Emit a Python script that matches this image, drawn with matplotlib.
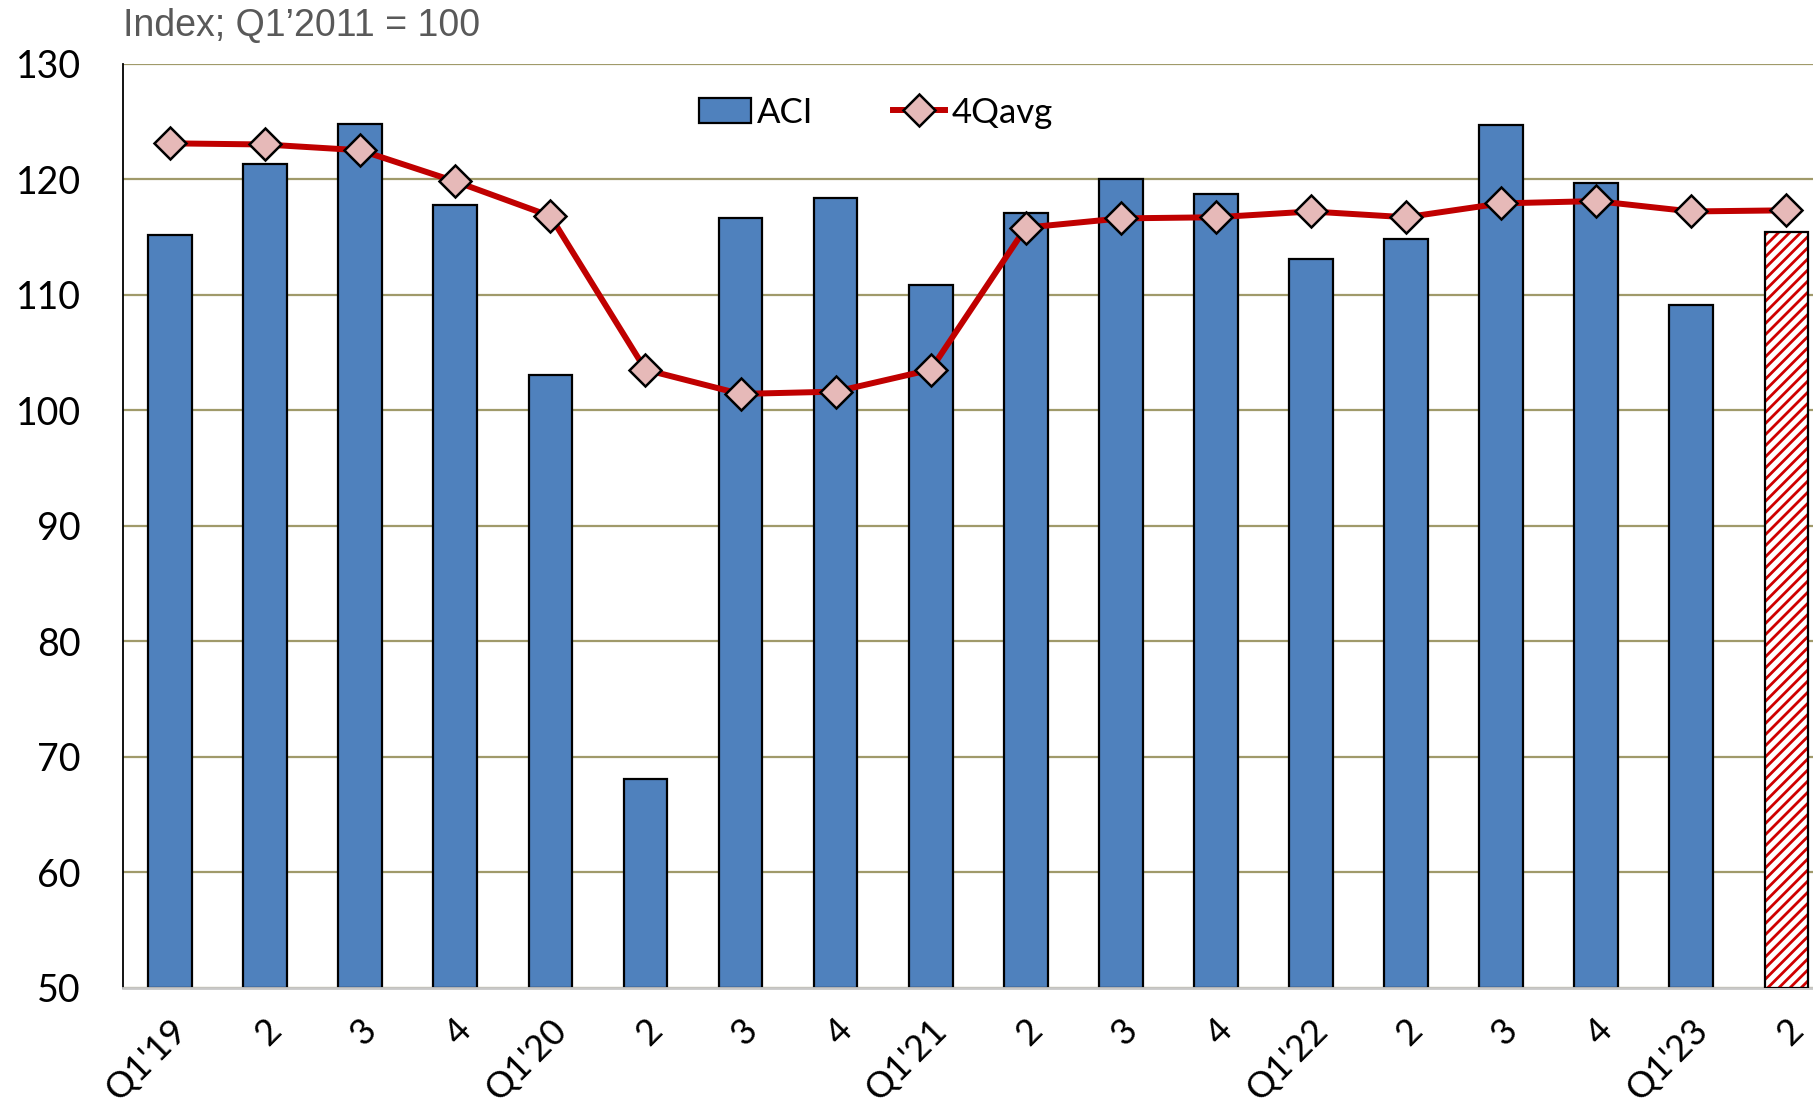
import matplotlib
matplotlib.use("Agg")
import matplotlib.pyplot as plt
import matplotlib.transforms as mtransforms

# data
quarters = ["Q1'19", "2", "3", "4", "Q1'20", "2", "3", "4", "Q1'21", "2", "3", "4",
            "Q1'22", "2", "3", "4", "Q1'23", "2"]
aci = [115.2, 121.3, 124.8, 117.8, 103.0, 68.1, 116.6, 118.4, 110.8, 117.1, 120.0, 118.7,
       113.1, 114.8, 124.7, 119.7, 109.1, 115.4]
avg4q = [123.1, 123.0, 122.5, 119.8, 116.8, 103.5, 101.4, 101.6, 103.5, 115.8, 116.6, 116.7,
         117.2, 116.7, 117.9, 118.1, 117.2, 117.3]
yticks = [50, 60, 70, 80, 90, 100, 110, 120, 130]

plt.rcParams['font.family'] = ['Lato', 'DejaVu Sans']
plt.rcParams['hatch.linewidth'] = 2.0

fig = plt.figure(figsize=(18.13, 11.05), dpi=100)
ax = fig.add_axes([0.0676, 0.1063, 0.9324, 0.8361])

x = list(range(len(quarters)))
base = 50
heights = [v - base for v in aci]
bars = ax.bar(x[:-1], heights[:-1], bottom=base, width=0.46, color='#4F81BD',
              edgecolor='black', linewidth=1.6, label='ACI', zorder=2)
# last quarter is a hatched (preliminary) bar
ax.bar(x[-1], heights[-1], bottom=base, width=0.46, color='white', hatch='///',
       edgecolor='#D00000', linewidth=0, zorder=2)
ax.bar(x[-1], heights[-1], bottom=base, width=0.46, fill=False,
       edgecolor='black', linewidth=1.6, zorder=3)

line, = ax.plot(x, avg4q, color='#C00000', linewidth=4.3, marker='D', markersize=16,
                markerfacecolor='#E6B9B8', markeredgecolor='black', markeredgewidth=1.8,
                label='4Qavg', zorder=4)

ax.set_ylim(50, 130)
ax.set_xlim(-0.5, 17.28)
ax.set_yticks(yticks)
ax.yaxis.grid(True, color='#A09A6A', linewidth=1.6, zorder=0)
ax.set_axisbelow(True)
ax.tick_params(axis='y', length=0, labelsize=27, pad=30)
ax.tick_params(axis='x', length=0, labelsize=26, pad=14)

for s in ['top', 'right']:
    ax.spines[s].set_visible(False)
ax.spines['left'].set_color('black')
ax.spines['left'].set_linewidth(1.3)
ax.spines['bottom'].set_color('#C8C8C8')
ax.spines['bottom'].set_linewidth(2)

ax.set_xticks(x)
ax.set_xticklabels(quarters, rotation=45, ha='right', va='center', rotation_mode='anchor')
offset = mtransforms.ScaledTranslation(0.11, -0.18, fig.dpi_scale_trans)
for lbl in ax.get_xticklabels():
    lbl.set_transform(lbl.get_transform() + offset)

ax.legend([bars, line], ['ACI', '4Qavg'], loc='center left', bbox_to_anchor=(0.341, 0.947),
          ncol=2, frameon=False, fontsize=25, handlelength=1.5, handletextpad=0.17,
          columnspacing=2.3, borderpad=0, borderaxespad=0)

fig.text(0.0676, 0.993, "Index; Q1\u20192011 = 100", fontsize=27, color='#595959',
         family='Liberation Sans', ha='left', va='top')

fig.savefig('out.png', dpi=100)
